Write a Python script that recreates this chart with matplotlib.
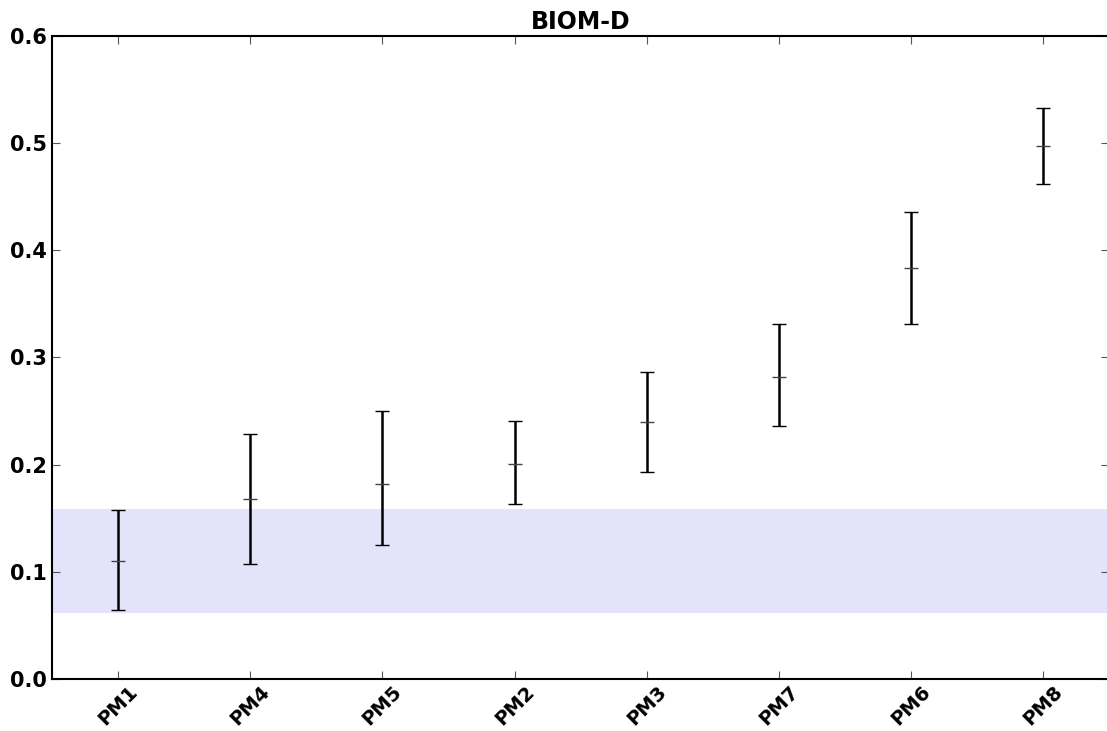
import numpy as np
import matplotlib
matplotlib.use('Agg')
import matplotlib.pyplot as plt

# ── Data ──────────────────────────────────────────────────────────────────────
labels = ['PM1', 'PM4', 'PM5', 'PM2', 'PM3', 'PM7', 'PM6', 'PM8']
means = [0.110, 0.168, 0.182, 0.201, 0.240, 0.282, 0.383, 0.497]
upper = [0.158, 0.229, 0.250, 0.241, 0.286, 0.331, 0.436, 0.533]
lower = [0.064, 0.107, 0.125, 0.163, 0.193, 0.236, 0.331, 0.462]
band_lo, band_hi = 0.062, 0.159

means = np.array(means)
yerr = [means - np.array(lower), np.array(upper) - means]
x = np.arange(len(labels))

fig = plt.figure(figsize=(11.07, 7.31), dpi=100)
ax = fig.add_axes([0.047, 0.071, 0.955, 0.880])

ax.axhspan(band_lo, band_hi, color='#e3e3fb', lw=0, zorder=0)
ax.errorbar(x, means, yerr=yerr, fmt='_', color='black', ecolor='black',
            elinewidth=1.8, capsize=5, capthick=1, markersize=10,
            markeredgewidth=1, markeredgecolor='#444444', zorder=3)

ax.set_xlim(-0.5, len(labels) - 0.5)
ax.set_ylim(0, 0.6)
ax.set_xticks(x)
ax.set_xticklabels(labels, rotation=45, fontsize=14, fontweight='bold')
ax.set_yticks(np.arange(0, 0.61, 0.1))
ax.set_yticklabels(['%.1f' % v for v in np.arange(0, 0.61, 0.1)],
                   fontsize=15, fontweight='bold')
ax.tick_params(direction='in', top=True, right=True, length=6, width=0.8, color='#555555')
ax.tick_params(axis='x', pad=2)
for s in ax.spines.values():
    s.set_linewidth(1.5)
ax.set_title('BIOM-D', fontsize=17, fontweight='bold', pad=5)

fig.savefig('out.png', dpi=100)
